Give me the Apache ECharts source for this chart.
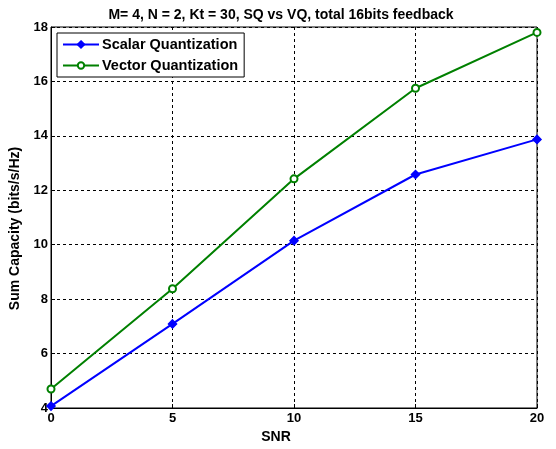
<!DOCTYPE html>
<html><head><meta charset="utf-8">
<script src="https://cdn.jsdelivr.net/npm/echarts@6/dist/echarts.min.js"></script>
<style>html,body{margin:0;padding:0;background:#fff}#c{width:556px;height:449px}</style>
</head><body><div id="c"></div>
<script>
const snr = [0, 5, 10, 15, 20];
const scalarQ = [4.07, 7.09, 10.15, 12.58, 13.87];
const vectorQ = [4.70, 8.38, 12.42, 15.75, 17.80];
const titleText = 'M= 4, N = 2, Kt = 30, SQ vs VQ, total 16bits feedback';
const font = 'Liberation Sans, Arial, sans-serif';
const chart = echarts.init(document.getElementById('c'), null, {renderer: 'canvas'});
chart.setOption({
  animation: false,
  backgroundColor: '#fff',
  title: {text: titleText, left: 276, top: 3, textAlign: 'center',
    textStyle: {fontFamily: font, fontWeight: 'bold', fontSize: 14, color: '#000'}},
  grid: {left: 51, right: 19, top: 27, bottom: 41, show: true, borderColor: '#000', borderWidth: 1},
  legend: {
    left: 57, top: 33, orient: 'vertical', itemGap: 6, itemWidth: 36, itemHeight: 8,
    padding: [4, 6, 4, 5],
    backgroundColor: '#fff', borderColor: '#000', borderWidth: 1,
    textStyle: {fontFamily: font, fontWeight: 'bold', fontSize: 14.5, color: '#000', padding: [0, 0, 0, -2]},
    data: ['Scalar Quantization', 'Vector Quantization']
  },
  xAxis: {
    type: 'value', min: 0, max: 20, interval: 5,
    name: 'SNR', nameLocation: 'middle', nameGap: 22,
    nameTextStyle: {fontFamily: font, fontWeight: 'bold', fontSize: 14, color: '#000', padding: [0, 36, 0, 0]},
    axisLine: {lineStyle: {color: '#000'}},
    axisTick: {inside: true, length: 4, lineStyle: {color: '#000'}},
    axisLabel: {fontFamily: font, fontWeight: 'bold', fontSize: 13, color: '#000', margin: 4},
    splitLine: {show: true, lineStyle: {color: '#000', type: [3, 3], width: 1}}
  },
  yAxis: {
    type: 'value', min: 4, max: 18, interval: 2,
    name: 'Sum Capacity (bits/s/Hz)', nameLocation: 'middle', nameGap: 27,
    nameTextStyle: {fontFamily: font, fontWeight: 'bold', fontSize: 14, color: '#000', padding: [0, 22, 0, 0]},
    axisLine: {lineStyle: {color: '#000'}},
    axisTick: {inside: true, length: 4, lineStyle: {color: '#000'}},
    axisLabel: {fontFamily: font, fontWeight: 'bold', fontSize: 13, color: '#000', margin: 3},
    splitLine: {show: true, lineStyle: {color: '#000', type: [3, 3], width: 1}}
  },
  series: [
    {name: 'Scalar Quantization', type: 'line', data: snr.map((x, i) => [x, scalarQ[i]]),
      symbol: 'diamond', symbolSize: 8, z: 3,
      lineStyle: {color: '#0000ff', width: 2}, itemStyle: {color: '#0000ff', borderColor: '#0000ff', borderWidth: 1.5}},
    {name: 'Vector Quantization', type: 'line', data: snr.map((x, i) => [x, vectorQ[i]]),
      symbol: 'emptyCircle', symbolSize: 7, z: 2,
      lineStyle: {color: '#008000', width: 2}, itemStyle: {color: '#008000', borderColor: '#008000', borderWidth: 1.5}}
  ]
});
</script></body></html>
